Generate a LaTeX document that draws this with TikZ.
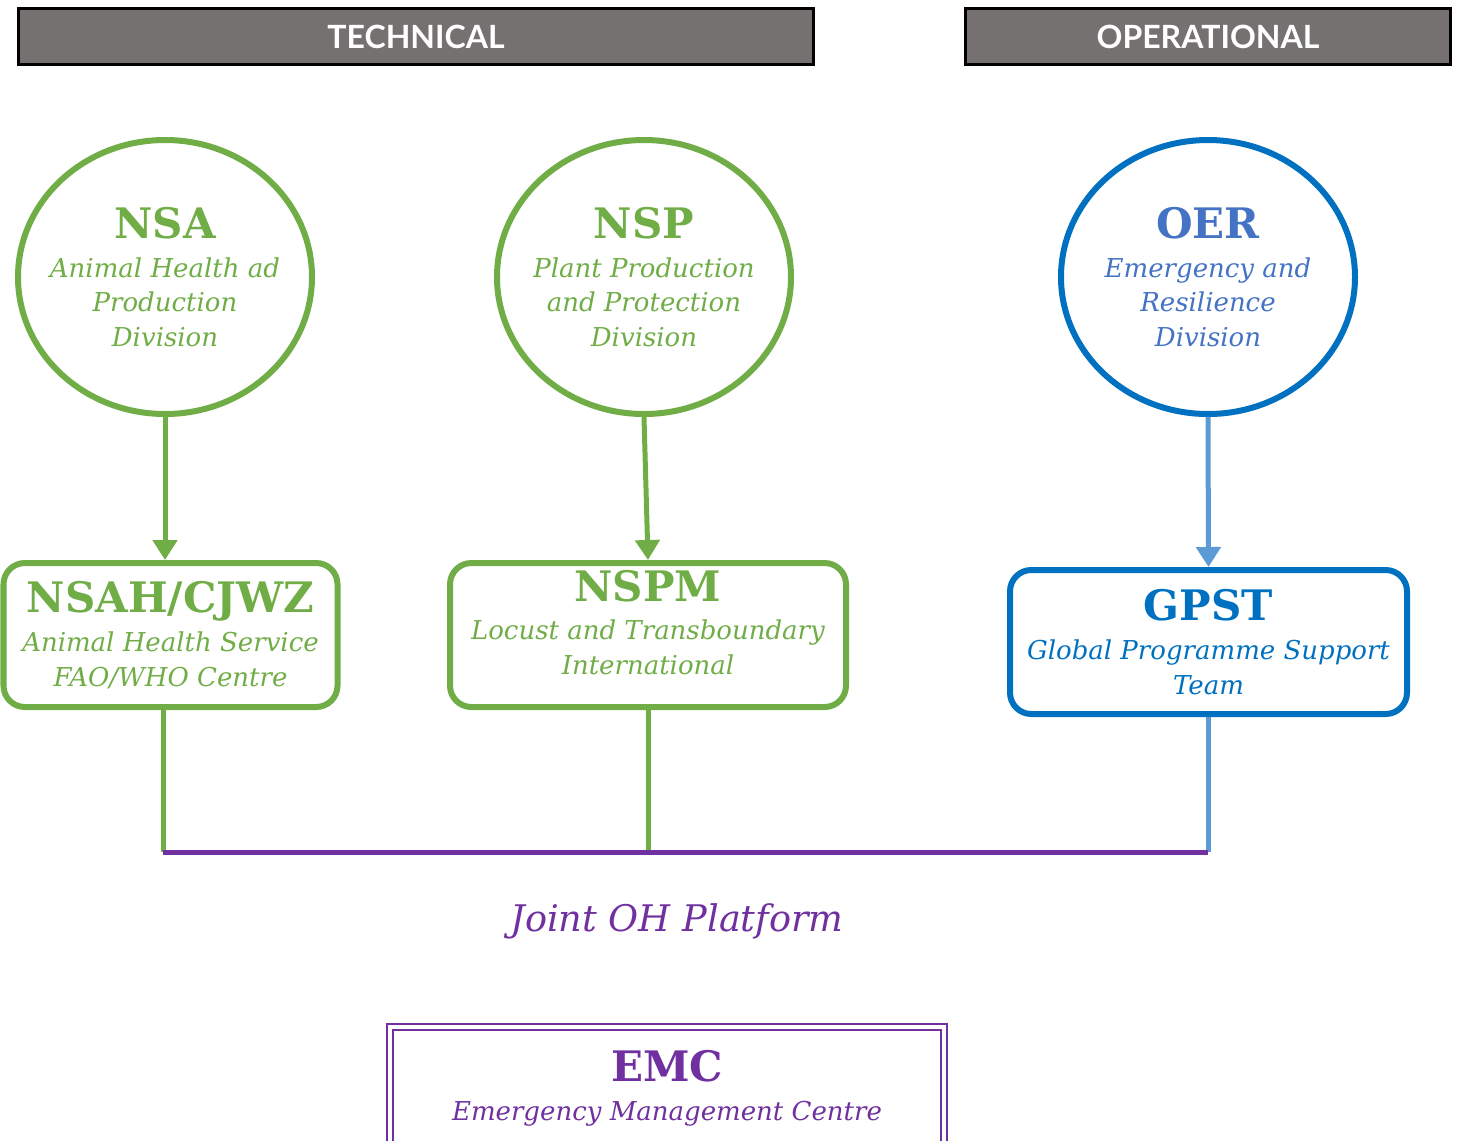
\documentclass[tikz,border=0pt]{standalone}
\usepackage{fontspec}
\setmainfont{DejaVu Serif}
\newfontfamily\headfont{Lato}
\usepackage{tikz}
\usetikzlibrary{shapes.geometric, arrows.meta, positioning}

\definecolor{fgreen}{HTML}{70AD47}
\definecolor{fblue}{HTML}{0070C0}
\definecolor{ftextblue}{HTML}{4472C4}
\definecolor{flightblue}{HTML}{5B9BD5}
\definecolor{fpurple}{HTML}{7030A0}
\definecolor{headgray}{HTML}{767171}

\newcommand{\unittitle}[1]{{\upshape\bfseries\fontsize{31.5}{34}\selectfont #1}\\[3pt]}

\begin{document}
\begin{tikzpicture}[
    x=0.75pt, y=-0.75pt,
    every node/.style={font=\itshape\fontsize{19.5}{26}\selectfont},
    head/.style={rectangle, draw=black, line width=2.25pt, fill=headgray, text=white, font=\headfont\bfseries\fontsize{24}{28}\selectfont, minimum height=42pt},
    unit/.style={ellipse, draw=#1, line width=4.5pt, minimum width=220.5pt, minimum height=205.5pt, align=center, inner sep=-40pt},
    team/.style={rectangle, draw=#1, line width=4.5pt, rounded corners=16pt, minimum height=108pt, align=center, inner sep=0pt},
    arrow/.style={-{Triangle[length=15pt,width=18pt]}, line width=3.75pt},
    link/.style={line width=3.75pt}
]
\useasboundingbox (0,0) rectangle (1468,1140);
\clip (0,0) rectangle (1468,1140);

% Headers
\node[head, minimum width=596pt] (technical) at (416,36.5) {TECHNICAL};
\node[head, minimum width=364pt] (operational) at (1208,36.5) {OPERATIONAL};

% Divisions
\node[unit=fgreen, text=fgreen] (nsa) at (165,277) {\unittitle{NSA}Animal Health ad\\Production\\Division};
\node[unit=fgreen, text=fgreen] (nsp) at (644,277) {\unittitle{NSP}Plant Production\\and Protection\\Division};
\node[unit=fblue, text=ftextblue] (oer) at (1208,277) {\unittitle{OER}Emergency and\\Resilience\\Division};

% Services and teams
\node[team=fgreen, text=fgreen, minimum width=250.5pt] (nsah) at (170.5,635) {\unittitle{NSAH/CJWZ}Animal Health Service\\FAO/WHO Centre};
\node[team=fgreen, text=fgreen, minimum width=297pt, text depth=19pt] (nspm) at (648,635) {\unittitle{NSPM}Locust and Transboundary\\International};
\node[team=fblue, text=fblue, minimum width=297.75pt] (gpst) at (1208.5,642) {\unittitle{GPST}Global Programme Support\\Team};

% Arrows
\draw[arrow, fgreen] (nsa.south) -- (nsa.south |- nsah.north);
\draw[arrow, fgreen] (nsp.south) -- (nspm.north);
\draw[arrow, flightblue] (oer.south) -- (gpst.north);

% Joint platform
\coordinate (busL) at (163,852);
\coordinate (busR) at (1208,852);
\draw[link, fgreen] (nsah.south -| busL) -- (busL);
\draw[link, fgreen] (nspm.south) -- (nspm.south |- busL);
\draw[link, flightblue] (gpst.south -| busR) -- (busR);
\draw[link, fpurple] (busL) -- (busR);
\node[text=fpurple, font=\itshape\fontsize{27.5}{30}\selectfont] (platform) at (677,921) {Joint OH Platform};

% EMC
\node[rectangle, draw=fpurple, line width=1.5pt, double=white, double distance=3pt, minimum width=415.5pt, minimum height=92pt, align=center, inner sep=0pt, text=fpurple] (emc) at (667,1088.5) {\unittitle{EMC}Emergency Management Centre};

\end{tikzpicture}
\end{document}
